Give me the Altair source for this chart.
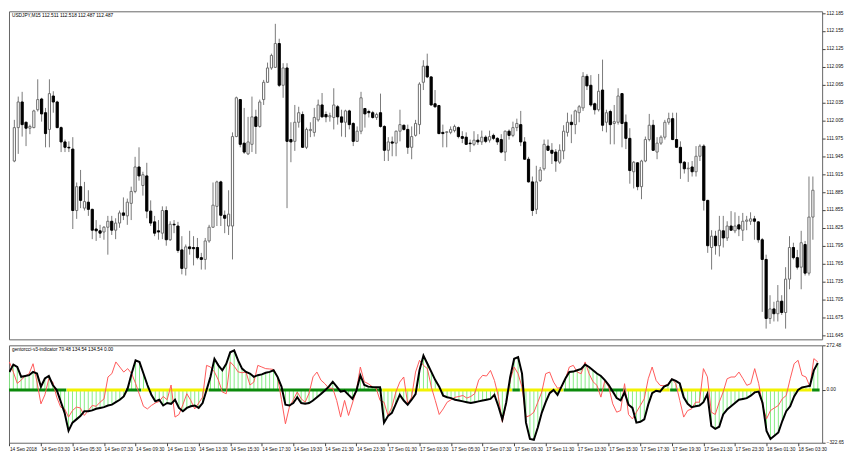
import altair as alt
import pandas as pd

# ---------------- data ----------------
OPEN = [111.937,111.993,112.036,112.002,111.992,111.993,112.023,112.041,112.018,111.990,
        112.046,112.036,111.993,111.969,111.960,111.957,111.854,111.894,111.858,111.868,
        111.856,111.823,111.820,111.818,111.826,111.836,111.821,111.833,111.850,111.845,
        111.866,111.886,111.927,111.896,111.912,111.853,111.835,111.820,111.816,111.854,
        111.805,111.831,111.828,111.788,111.757,111.793,111.792,111.792,111.775,111.772,
        111.803,111.826,111.861,111.902,111.846,111.828,111.828,111.978,112.040,111.967,
        111.949,111.965,112.011,111.995,112.040,112.069,112.093,112.094,112.134,112.064,
        112.093,111.973,111.970,112.002,112.015,111.960,111.988,111.985,112.006,112.031,
        112.015,112.011,112.010,112.028,112.011,112.002,112.021,112.000,111.970,111.987,
        112.025,112.020,112.018,112.010,112.018,111.995,111.955,111.969,111.967,111.987,
        111.997,111.990,111.960,111.980,111.998,112.069,112.096,112.078,112.033,112.030,
        111.985,111.985,111.985,111.988,111.993,111.978,111.977,111.967,111.965,111.972,
        111.969,111.977,111.972,111.980,111.975,111.973,111.952,111.987,111.980,111.993,
        111.998,111.969,111.940,111.902,111.856,111.904,111.924,111.962,111.955,111.952,
        111.935,111.954,111.985,112.002,111.998,112.018,112.026,112.079,112.064,112.033,
        112.023,112.056,112.002,112.020,112.000,112.002,112.050,112.002,111.975,111.919,
        111.934,111.894,111.937,111.973,111.997,111.952,111.967,111.977,112.002,112.008,
        111.973,111.960,111.935,111.924,111.927,111.919,111.945,111.962,111.871,111.792,
        111.811,111.795,111.820,111.808,111.828,111.820,111.830,111.821,111.836,111.836,
        111.840,111.835,111.805,111.772,111.673,111.689,111.681,111.702,111.683,111.739,
        111.792,111.775,111.759,111.797,111.749,111.843]
HIGH = [112.006,112.045,112.053,112.003,111.998,112.023,112.074,112.043,112.026,112.074,
        112.054,112.038,111.995,111.973,111.970,111.977,111.901,111.922,111.902,111.888,
        111.857,111.838,111.830,111.828,111.845,111.845,111.841,111.854,111.876,111.874,
        111.894,111.944,111.960,111.919,111.934,111.871,111.845,111.838,111.861,111.861,
        111.836,111.838,111.835,111.811,111.797,111.820,111.811,111.808,111.783,111.808,
        111.830,111.901,111.904,111.904,111.854,111.888,111.985,112.045,112.041,112.026,
        112.011,112.045,112.023,112.040,112.073,112.102,112.117,112.167,112.142,112.101,
        112.101,112.002,112.031,112.028,112.020,111.993,112.002,112.026,112.040,112.051,
        112.020,112.018,112.059,112.031,112.023,112.023,112.023,112.002,111.995,112.053,
        112.026,112.023,112.021,112.018,112.050,111.997,111.977,111.978,111.988,112.023,
        111.998,111.998,111.995,112.006,112.069,112.106,112.117,112.079,112.056,112.031,
        111.998,111.987,111.995,111.998,111.995,111.987,111.985,111.973,111.987,111.982,
        111.988,111.980,111.988,111.983,111.977,111.982,111.988,111.990,112.003,112.008,
        112.021,111.977,111.944,111.911,111.929,111.927,111.973,111.973,111.967,111.957,
        111.965,111.997,112.018,112.015,112.023,112.031,112.086,112.083,112.081,112.035,
        112.083,112.107,112.023,112.023,112.031,112.059,112.051,112.015,111.992,111.937,
        111.935,111.939,111.978,112.016,112.006,111.977,111.980,112.006,112.018,112.018,
        112.018,111.970,111.937,111.935,111.937,111.962,111.965,111.965,111.872,111.821,
        111.820,111.845,111.845,111.836,111.853,111.851,111.845,111.850,111.845,111.851,
        111.845,111.836,111.808,111.780,111.712,111.701,111.729,111.712,111.759,111.811,
        111.800,111.788,111.820,111.803,111.911,111.911]
LOW = [111.935,111.949,111.978,111.962,111.982,111.992,112.020,112.003,111.960,111.960,
       112.018,111.992,111.952,111.952,111.952,111.823,111.840,111.858,111.854,111.845,
       111.806,111.803,111.808,111.805,111.780,111.813,111.806,111.825,111.838,111.830,
       111.838,111.883,111.904,111.879,111.841,111.828,111.811,111.805,111.806,111.795,
       111.803,111.816,111.783,111.747,111.745,111.780,111.762,111.772,111.755,111.755,
       111.800,111.825,111.828,111.828,111.816,111.813,111.772,111.977,111.960,111.949,
       111.947,111.952,111.949,111.993,112.031,112.068,112.090,112.093,112.061,112.043,
       111.858,111.935,111.954,111.993,111.959,111.957,111.977,111.978,112.003,112.010,
       112.002,112.003,111.990,111.998,111.978,111.977,111.990,111.962,111.969,111.982,
       111.993,112.010,112.008,112.006,111.993,111.937,111.937,111.945,111.945,111.970,
       111.988,111.949,111.940,111.978,111.982,112.056,112.076,112.030,112.026,111.982,
       111.960,111.960,111.982,111.985,111.975,111.967,111.964,111.952,111.962,111.964,
       111.964,111.967,111.968,111.972,111.964,111.950,111.937,111.973,111.977,111.987,
       111.962,111.939,111.901,111.845,111.848,111.902,111.921,111.954,111.932,111.919,
       111.932,111.940,111.978,111.967,111.982,112.002,112.021,112.056,112.028,112.015,
       112.020,111.987,111.985,111.965,111.965,111.998,111.960,111.957,111.899,111.891,
       111.888,111.873,111.935,111.970,111.954,111.940,111.964,111.973,111.998,111.972,
       111.959,111.907,111.916,111.902,111.911,111.911,111.937,111.854,111.783,111.755,
       111.780,111.777,111.792,111.803,111.820,111.816,111.811,111.803,111.821,111.830,
       111.805,111.800,111.684,111.656,111.664,111.668,111.668,111.679,111.656,111.722,
       111.772,111.755,111.722,111.745,111.745,111.805]
CLOSE = [111.993,112.036,111.998,111.992,111.995,112.021,112.040,112.016,111.983,112.050,
         112.036,111.993,111.969,111.960,111.959,111.854,111.894,111.871,111.869,111.856,
         111.821,111.820,111.816,111.826,111.836,111.821,111.833,111.850,111.846,111.868,
         111.886,111.927,111.912,111.914,111.853,111.833,111.816,111.818,111.854,111.805,
         111.831,111.830,111.787,111.757,111.793,111.790,111.790,111.775,111.772,111.803,
         111.826,111.863,111.902,111.846,111.841,111.848,111.978,112.043,111.965,111.952,
         111.969,112.011,111.995,112.036,112.069,112.093,112.114,112.134,112.064,112.093,
         111.970,111.969,112.002,112.018,111.960,111.990,111.990,112.010,112.031,112.011,
         112.011,112.013,112.031,112.011,112.002,112.021,111.998,111.970,111.987,112.043,
         112.016,112.018,112.010,112.015,111.995,111.955,111.969,111.967,111.987,111.998,
         111.990,111.960,111.978,112.000,112.066,112.096,112.078,112.031,112.028,111.983,
         111.983,111.986,111.990,111.995,111.978,111.975,111.965,111.966,111.972,111.969,
         111.977,111.970,111.978,111.975,111.969,111.952,111.987,111.980,111.993,112.000,
         111.969,111.940,111.902,111.854,111.902,111.922,111.965,111.955,111.950,111.937,
         111.955,111.987,112.002,111.998,112.021,112.028,112.079,112.063,112.031,112.023,
         112.054,111.997,112.018,111.998,112.003,112.046,112.000,111.975,111.921,111.935,
         111.894,111.937,111.973,111.997,111.955,111.967,111.977,112.002,112.008,111.973,
         111.960,111.934,111.924,111.925,111.919,111.945,111.962,111.871,111.795,111.811,
         111.795,111.821,111.808,111.828,111.821,111.828,111.823,111.836,111.838,111.840,
         111.836,111.805,111.772,111.673,111.689,111.681,111.702,111.683,111.739,111.792,
         111.775,111.759,111.800,111.749,111.843,111.888]

# indicator: slow (black) and fast (red) CCI lines
CCI_SLOW = [110,155,140,80,85,90,110,100,20,70,85,30,0,-70,-140,-250,-200,-180,-160,-130,
            -130,-125,-115,-110,-105,-95,-90,-75,-60,-40,10,100,180,170,100,30,-30,-70,-60,-95,
            -80,-85,-60,-110,-130,-110,-100,-95,-110,-80,0,80,190,150,120,160,230,242,180,130,
            110,100,80,90,95,105,110,120,80,20,-90,-95,-80,-45,-80,-85,-80,-65,-45,-25,
            -3,20,50,20,-10,-5,-30,-54,-5,89,30,20,18,17,17,-200,-160,-140,-85,-30,
            -65,-90,-60,-25,120,210,160,110,60,20,-35,-45,-50,-60,-65,-70,-75,-80,-75,-70,
            -65,-60,-55,-30,-100,-180,-75,80,190,200,100,-200,-300,-305,-230,-140,-75,-20,0,-30,
            20,70,110,112,120,128,155,140,120,100,85,60,30,-10,-50,-64,-15,-90,-110,-200,
            -195,-180,-90,-20,-5,-10,20,30,65,55,40,-45,-85,-105,-100,-95,-75,-25,-220,-238,
            -225,-150,-120,-100,-80,-60,-55,-50,-35,-15,-10,-80,-250,-300,-280,-260,-190,-130,-100,-40,
            0,15,20,25,120,165]
CCI_FAST = [171,109,40,60,85,99,160,48,-85,-30,68,48,-44,-105,-116,-166,-126,-105,-110,-156,
            -126,-95,-100,-75,-55,79,100,171,140,109,130,100,40,-30,-100,-116,-95,-80,-70,-40,
            -60,30,-166,-150,-90,-23,-64,-116,-80,-44,150,140,110,60,-13,-23,171,145,110,105,
            109,30,48,150,140,130,128,125,79,-60,-207,-105,-60,-13,-54,-75,-20,80,109,60,
            38,10,10,-64,-166,-64,-156,-80,-3,140,50,38,20,10,-64,-75,-156,-105,-13,48,
            79,-85,-44,109,181,150,130,17,-64,-150,-116,-75,-60,-45,-40,-34,-50,-40,-23,60,
            89,85,119,58,-40,-197,-80,60,140,99,17,-166,-156,-136,-75,-13,99,109,48,10,
            17,68,140,150,109,99,171,99,50,28,-44,58,17,-85,-136,-126,38,-150,-177,-136,
            -95,-54,68,140,58,28,25,35,68,38,-64,-166,-126,-116,-75,-75,130,80,-136,-150,
            -75,-13,68,79,79,109,70,28,38,130,40,-95,-177,-126,-110,-95,-54,-34,68,160,
            181,89,79,20,191,171]

# colour of the zero line: (first bar, last bar, state)
ZERO_SEGMENTS = [(0, 14, "up"), (15, 29, "down"), (30, 33, "up"), (34, 50, "down"),
                 (51, 94, "up"), (95, 127, "down"), (128, 129, "up"), (130, 140, "down"),
                 (141, 156, "up"), (157, 167, "down"), (168, 169, "up"), (170, 203, "down"),
                 (204, 205, "up")]

TIME_LABELS = ["14 Sep 2018", "14 Sep 03:30", "14 Sep 05:30", "14 Sep 07:30", "14 Sep 09:30",
               "14 Sep 11:30", "14 Sep 13:30", "14 Sep 15:30", "14 Sep 17:30", "14 Sep 19:30",
               "14 Sep 21:30", "14 Sep 23:30", "17 Sep 01:30", "17 Sep 03:30", "17 Sep 05:30",
               "17 Sep 07:30", "17 Sep 09:30", "17 Sep 11:30", "17 Sep 13:30", "17 Sep 15:30",
               "17 Sep 17:30", "17 Sep 19:30", "17 Sep 21:30", "17 Sep 23:30", "18 Sep 01:30",
               "18 Sep 03:30"]
BARS_PER_LABEL = 8
PRICE_TICKS = [112.185, 112.155, 112.125, 112.095, 112.065, 112.035, 112.005, 111.975,
               111.945, 111.915, 111.885, 111.855, 111.825, 111.795, 111.765, 111.735,
               111.705, 111.675, 111.645]
PRICE_DOMAIN = [111.638, 112.188]
IND_TICKS = [272.48, 0.00, -322.65]
MAIN_TITLE = "USDJPY,M15  112.511 112.518 112.487 112.487"
IND_TITLE = "gentorcci-v3-indicator 70.48 134.54 134.54 0.00"

# ---------------- build ----------------
n = len(OPEN)
df = pd.DataFrame({"i": list(range(n)), "open": OPEN, "high": HIGH, "low": LOW,
                   "close": CLOSE, "slow": CCI_SLOW, "fast": CCI_FAST})
df["dir"] = ["bull" if c >= o else "bear" for o, c in zip(OPEN, CLOSE)]
df["base"] = 0.0

seg = pd.DataFrame(ZERO_SEGMENTS, columns=["a", "b", "state"])
seg["x0"] = seg["a"] - 0.45
seg["x1"] = seg["b"] + 0.45
seg["zero"] = 0.0

FONT = "Liberation Sans"
FS = 4.8
W = 818
xscale = alt.Scale(domain=[-0.1, n + 0.1], nice=False, zero=False)
pscale = alt.Scale(domain=PRICE_DOMAIN, nice=False, zero=False)
iscale = alt.Scale(domain=[IND_TICKS[2], IND_TICKS[0]], nice=False, zero=False)

price_axis = alt.Axis(orient="right", values=PRICE_TICKS, format=".3f", labelFontSize=FS,
                      labelFont=FONT, tickSize=3, labelPadding=1, domain=False, grid=False,
                      tickColor="#444", labelColor="#111", title=None, labelOverlap=False)

wick = alt.Chart(df).mark_rule(color="#7a7a7a", strokeWidth=1).encode(
    x=alt.X("i:Q", scale=xscale, axis=None),
    y=alt.Y("low:Q", scale=pscale, axis=price_axis),
    y2="high:Q")
body = alt.Chart(df).mark_bar(size=2.2, strokeWidth=1).encode(
    x=alt.X("i:Q", scale=xscale, axis=None),
    y=alt.Y("open:Q", scale=pscale, axis=price_axis),
    y2="close:Q",
    fill=alt.Fill("dir:N", scale=alt.Scale(domain=["bull", "bear"], range=["#ffffff", "#000000"]),
                  legend=None),
    stroke=alt.Stroke("dir:N", scale=alt.Scale(domain=["bull", "bear"], range=["#6e6e6e", "#000000"]),
                      legend=None))
title_main = alt.Chart(pd.DataFrame({"t": [MAIN_TITLE]})).mark_text(
    align="left", baseline="top", fontSize=FS, font=FONT, color="black").encode(
    x=alt.value(3), y=alt.value(2), text="t:N")

top = alt.layer(wick, body, title_main).properties(width=W, height=330)

label_js = "[" + ",".join("'" + s + "'" for s in TIME_LABELS) + "]"
time_axis = alt.Axis(values=[k * BARS_PER_LABEL for k in range(len(TIME_LABELS))],
                     labelExpr=label_js + "[round(datum.value/" + str(BARS_PER_LABEL) + ")]",
                     labelAlign="left", labelFontSize=FS, labelFont=FONT, tickSize=3,
                     labelPadding=1, domain=False, grid=False, labelOverlap=False,
                     labelFlush=False, tickColor="#444", labelColor="#111", title=None)
ind_axis = alt.Axis(orient="right", values=IND_TICKS, format=".2f", labelFontSize=FS,
                    labelFont=FONT, tickSize=3, labelPadding=1, domain=False, grid=False,
                    tickColor="#444", labelColor="#111", title=None, labelOverlap=False)

hist = alt.Chart(df).mark_rule(color="#86ee86", strokeWidth=1, clip=True).encode(
    x=alt.X("i:Q", scale=xscale, axis=time_axis),
    y=alt.Y("base:Q", scale=iscale, axis=ind_axis),
    y2="slow:Q")
zero = alt.Chart(seg).mark_rule(strokeWidth=3, clip=True).encode(
    x=alt.X("x0:Q", scale=xscale, axis=time_axis), x2="x1:Q",
    y=alt.Y("zero:Q", scale=iscale, axis=ind_axis),
    color=alt.Color("state:N", scale=alt.Scale(domain=["up", "down"], range=["#0b8a0b", "#f2f200"]),
                    legend=None))
fast = alt.Chart(df).mark_line(color="#ff5a5a", strokeWidth=1, clip=True).encode(
    x=alt.X("i:Q", scale=xscale, axis=time_axis), y=alt.Y("fast:Q", scale=iscale, axis=ind_axis))
slow = alt.Chart(df).mark_line(color="#000000", strokeWidth=2, clip=True).encode(
    x=alt.X("i:Q", scale=xscale, axis=time_axis), y=alt.Y("slow:Q", scale=iscale, axis=ind_axis))
title_ind = alt.Chart(pd.DataFrame({"t": [IND_TITLE]})).mark_text(
    align="left", baseline="top", fontSize=FS, font=FONT, color="black").encode(
    x=alt.value(3), y=alt.value(2), text="t:N")

bottom = alt.layer(hist, zero, fast, slow, title_ind).properties(width=W, height=98)

chart = alt.vconcat(top, bottom, spacing=1).properties(
    padding=0, background="white"
).configure_view(stroke="#666666", strokeWidth=1).configure_axis(labelOverlap=False)

chart.save("out.html", embed_options={"renderer": "svg", "actions": False})
